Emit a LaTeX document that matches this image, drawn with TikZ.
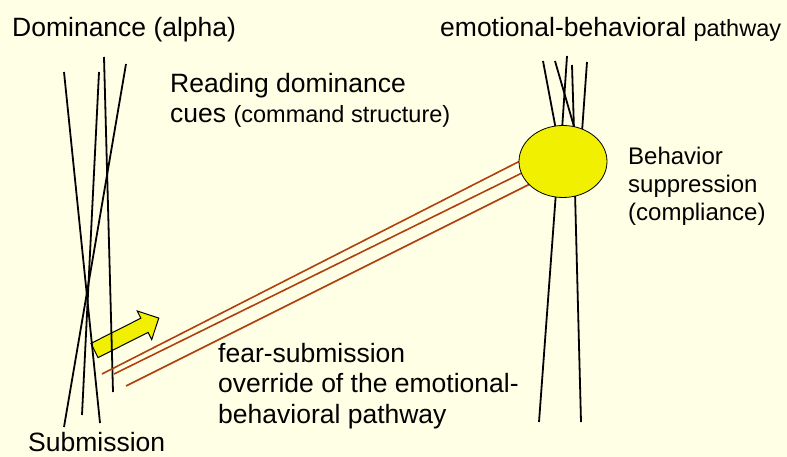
\documentclass[tikz,border=0pt]{standalone}
\usepackage{fontspec}
\setmainfont{Liberation Sans}
\usetikzlibrary{shapes.geometric}
\definecolor{bg}{RGB}{255,255,229}
\definecolor{yel}{RGB}{240,240,0}
\definecolor{brn}{RGB}{176,64,16}
\tikzset{
  big/.style={font=\fontsize{26.5}{30}\selectfont, anchor=base west, inner sep=0pt},
  small/.style={font=\fontsize{24}{28}\selectfont, anchor=base west, inner sep=0pt},
  fiber/.style={draw=black, line width=1.8pt},
  fearline/.style={draw=brn, line width=1.6pt},
  blockarrow/.style={fill=yel, draw=black, line width=1pt, line join=miter},
}
\begin{document}
\begin{tikzpicture}[x=1pt,y=-1pt]
\useasboundingbox[fill=bg] (0,0) rectangle (787,457);

% yellow block arrow
\draw[blockarrow] (90.9,343.4) -- (140.9,318.2) -- (137.3,311.0) -- (158.8,318.1)
  -- (151.7,339.6) -- (148.1,332.4) -- (98.1,357.6) -- cycle;

% left bundle
\coordinate (l1a) at (64,72);   \coordinate (l1b) at (100,423);
\coordinate (l2a) at (99,72);   \coordinate (l2b) at (82,415);
\coordinate (l3a) at (104,57);  \coordinate (l3b) at (113,392);
\coordinate (l4a) at (126,64);  \coordinate (l4b) at (64,427);
\draw[fiber] (l1a) -- (l1b);
\draw[fiber] (l2a) -- (l2b);
\draw[fiber] (l3a) -- (l3b);
\draw[fiber] (l4a) -- (l4b);

% right bundle
\coordinate (r1a) at (543,61);  \coordinate (r1b) at (556,130);
\coordinate (r2a) at (555,61);  \coordinate (r2b) at (575,130);
\coordinate (r3a) at (567,56);  \coordinate (r3b) at (562,130);
\coordinate (r4a) at (572,65);  \coordinate (r4b) at (574,130);
\coordinate (r5a) at (587,62);  \coordinate (r5b) at (582,132);
\coordinate (r6a) at (556,192); \coordinate (r6b) at (539,422);
\coordinate (r7a) at (575,192); \coordinate (r7b) at (581,422);
\draw[fiber] (r1a) -- (r1b);
\draw[fiber] (r2a) -- (r2b);
\draw[fiber] (r3a) -- (r3b);
\draw[fiber] (r4a) -- (r4b);
\draw[fiber] (r5a) -- (r5b);
\draw[fiber] (r6a) -- (r6b);
\draw[fiber] (r7a) -- (r7b);

% fear-submission lines
\coordinate (f1a) at (102,374); \coordinate (f1b) at (522,160);
\coordinate (f2a) at (114,374); \coordinate (f2b) at (524,172);
\coordinate (f3a) at (126,386); \coordinate (f3b) at (530,184);
\draw[fearline] (f1a) -- (f1b);
\draw[fearline] (f2a) -- (f2b);
\draw[fearline] (f3a) -- (f3b);

% ellipse
\node[ellipse, fill=yel, draw=black, line width=0.8pt, minimum width=88pt,
      minimum height=72pt, inner sep=0pt] (supp) at (563,161.5) {};

% texts
\node[big] (dom) at (12,37) {Dominance (alpha)};
\node[big] (sub) at (28,451) {Submission};
\node[big] (emo) at (440,37) {emotional-behavioral \fontsize{23.5}{28}\selectfont pathway};
\node[big] (read1) at (170,93) {Reading dominance};
\node[big] (read2) at (170,123) {cues \fontsize{23.5}{28}\selectfont(command structure)};
\node[small] (beh1) at (628,165) {Behavior};
\node[small] (beh2) at (628,193) {suppression};
\node[small] (beh3) at (628,221) {(compliance)};
\node[big] (fear1) at (218,362) {fear-submission};
\node[big] (fear2) at (218,392) {override of the emotional-};
\node[big] (fear3) at (218,423) {behavioral pathway};
\end{tikzpicture}
\end{document}
